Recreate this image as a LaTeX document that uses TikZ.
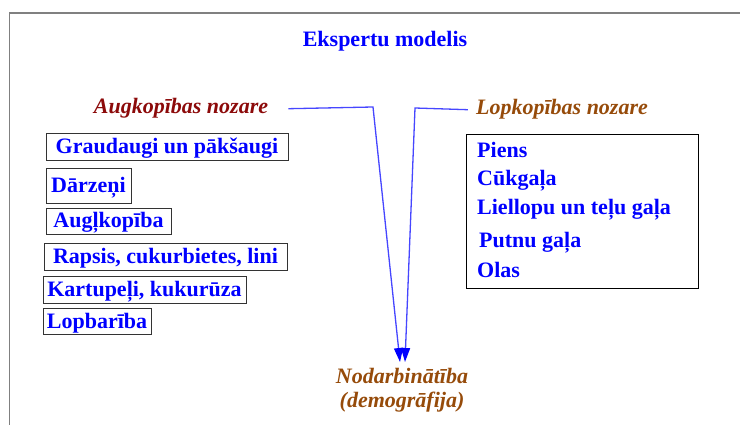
\documentclass[tikz,border=0pt]{standalone}
\usepackage{fontspec}
\setmainfont{Liberation Serif}
\usetikzlibrary{arrows.meta}
\definecolor{itemblue}{RGB}{0,0,255}
\definecolor{plantred}{RGB}{140,10,10}
\definecolor{animalbrown}{RGB}{150,75,10}
\definecolor{linkblue}{RGB}{70,70,255}
\definecolor{framegray}{RGB}{128,128,128}
\begin{document}
\begin{tikzpicture}[x=1pt, y=-1pt,
	bigfont/.style={font=\fontsize{22}{26}\selectfont\bfseries},
	itembox/.style={bigfont, draw=black!80, line width=0.9pt, text=itemblue, inner sep=0pt, text height=16pt, text depth=2pt},
	item/.style={bigfont, text=itemblue, inner sep=0pt, anchor=base west},
	sector/.style={bigfont, inner sep=0pt, anchor=base, font=\fontsize{22}{26}\selectfont\bfseries\itshape},
	link/.style={linkblue, line width=1.3pt, -{Triangle[length=14pt, width=9pt, color=itemblue]}}]
	\useasboundingbox (0,0) rectangle (740,425);
	\draw[framegray, line width=1.5pt] (740,13) -- (9.5,13) -- (9.5,425);
	\node[bigfont, text=itemblue, anchor=base, inner sep=0pt] (title) at (385,47) {Ekspertu modelis};
	% nozares
	\node[sector, text=plantred] (augk) at (181,114) {Augkopības nozare};
	\node[sector, text=animalbrown] (lopk) at (562,115) {Lopkopības nozare};
	\node[sector, text=animalbrown] (nodarb) at (402,383) {Nodarbinātība};
	\node[sector, text=animalbrown] (demogr) at (402,407) {(demogrāfija)};
	% augkopibas produkti
	\node[itembox, minimum width=242pt, minimum height=27pt] (graud) at (167,146.5) {Graudaugi un pākšaugi};
	\node[itembox, minimum width=85pt, minimum height=35pt] (darz) at (88.5,185.5) {Dārzeņi};
	\node[itembox, minimum width=125pt, minimum height=26pt] (augl) at (108.5,221) {Augļkopība};
	\node[itembox, minimum width=243pt, minimum height=27pt] (raps) at (165.5,256.5) {Rapsis, cukurbietes, lini};
	\node[itembox, minimum width=203pt, minimum height=27pt] (kart) at (144.5,289.5) {Kartupeļi, kukurūza};
	\node[itembox, minimum width=108pt, minimum height=26pt] (lopb) at (97,321) {Lopbarība};
	% lopkopibas produkti
	\node[draw=black, line width=1pt, minimum width=232pt, minimum height=154pt, inner sep=0pt] (lopbox) at (582,212) {};
	\node[item] (piens) at (477,158) {Piens};
	\node[item] (cuk) at (477,186) {Cūkgaļa};
	\node[item] (liell) at (477,215) {Liellopu un teļu gaļa};
	\node[item] (putnu) at (479,248) {Putnu gaļa};
	\node[item] (olas) at (477,277) {Olas};
	% bultas
	\coordinate (tipL) at (400,362);
	\coordinate (tipR) at (405,362);
	\draw[link] ([xshift=20pt]augk.east) -- (373,107) -- (tipL);
	\draw[link] ([xshift=-8pt]lopk.west) -- (415,108) -- (tipR);
\end{tikzpicture}
\end{document}
